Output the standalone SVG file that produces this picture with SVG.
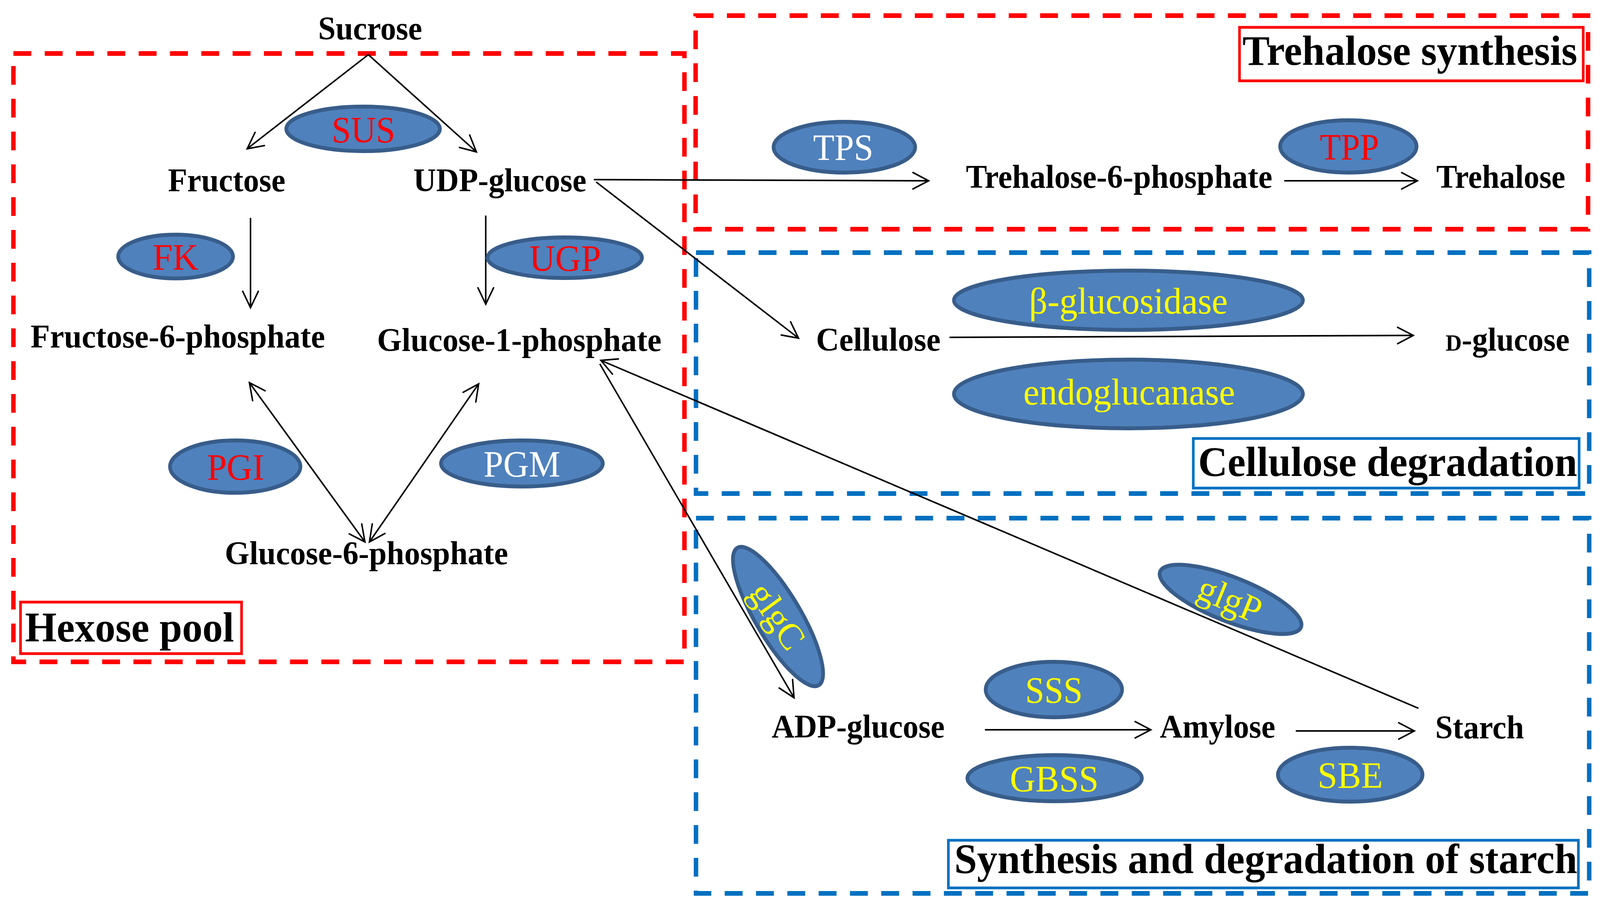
<svg xmlns="http://www.w3.org/2000/svg" width="4292" height="2328" viewBox="0 0 4292 2328" preserveAspectRatio="none">
<style>
svg{width:100vw;height:100vh;display:block}
.bg{fill:#FFFFFF}
.dr{fill:none;stroke:#FF0000;stroke-width:12;stroke-dasharray:48 36}
.db{fill:none;stroke:#0070C0;stroke-width:12;stroke-dasharray:48 36}
.lr{fill:#FFFFFF;stroke:#FF0000;stroke-width:7}
.lb{fill:#FFFFFF;stroke:#0070C0;stroke-width:7}
.en{fill:#4F81BD;stroke:#385D8A;stroke-width:10}
.nd{font-family:"Liberation Serif","Times New Roman",serif;font-weight:bold;font-size:84px;fill:#000000;text-anchor:middle}
.lab{font-family:"Liberation Serif","Times New Roman",serif;font-weight:bold;font-size:107px;fill:#000000}
.ez{font-family:"Liberation Serif","Times New Roman",serif;font-size:96px;text-anchor:middle}
.red{fill:#FF0000}
.yel{fill:#FFFF00}
.wht{fill:#FFFFFF}
.cn line{stroke:#000000;stroke-width:4;fill:none}
</style>
<defs>
<marker id="ah" viewBox="-50 -30 56 60" refX="0" refY="0" markerWidth="56" markerHeight="60" markerUnits="userSpaceOnUse" orient="auto-start-reverse">
<path d="M -42 -21 L 0 0 L -42 21" fill="none" stroke="#000000" stroke-width="4" stroke-linecap="round" stroke-linejoin="miter"/>
</marker>
</defs>
<rect class="bg" x="0" y="0" width="4292" height="2328"/>

<g id="regions">
<rect id="hexose-pool-box" class="dr" x="36" y="137" width="1800" height="1558"/>
<rect id="trehalose-box" class="dr" x="1866" y="40" width="2394" height="547"/>
<rect id="cellulose-box" class="db" x="1867" y="647" width="2396" height="617"/>
<rect id="starch-box" class="db" x="1867" y="1327" width="2396" height="961"/>
</g>

<g id="region-labels">
<g id="label-hexose"><rect class="lr" x="55" y="1542" width="593" height="132"/><text class="lab" x="67" y="1643" textLength="561" lengthAdjust="spacingAndGlyphs">Hexose pool</text></g>
<g id="label-trehalose"><rect class="lr" x="3325" y="70" width="922" height="137"/><text class="lab" x="3333" y="166" textLength="898" lengthAdjust="spacingAndGlyphs">Trehalose synthesis</text></g>
<g id="label-cellulose"><rect class="lb" x="3201" y="1123" width="1035" height="127"/><text class="lab" x="3214" y="1219" textLength="1017" lengthAdjust="spacingAndGlyphs">Cellulose degradation</text></g>
<g id="label-starch"><rect class="lb" x="2544" y="2152" width="1690" height="122"/><text class="lab" x="2560" y="2236" textLength="1671" lengthAdjust="spacingAndGlyphs">Synthesis and degradation of starch</text></g>
</g>

<g id="connectors" class="cn">
<line x1="988" y1="140" x2="663" y2="381" marker-end="url(#ah)"/>
<line x1="988" y1="140" x2="1278" y2="389" marker-end="url(#ah)"/>
<line x1="672" y1="558" x2="672" y2="788" marker-end="url(#ah)"/>
<line x1="1303" y1="552" x2="1303" y2="779" marker-end="url(#ah)"/>
<line x1="669" y1="980" x2="979" y2="1388" marker-start="url(#ah)" marker-end="url(#ah)"/>
<line x1="1284" y1="983" x2="991" y2="1388" marker-start="url(#ah)" marker-end="url(#ah)"/>
<line x1="1593" y1="460" x2="2491" y2="463" marker-end="url(#ah)"/>
<line x1="1599" y1="466" x2="2142" y2="866" marker-end="url(#ah)"/>
<line x1="3445" y1="463" x2="3802" y2="463" marker-end="url(#ah)"/>
<line x1="2547" y1="864" x2="3791" y2="859" marker-end="url(#ah)"/>
<line x1="1609" y1="932" x2="2130" y2="1787" marker-end="url(#ah)"/>
<line x1="3805" y1="1814" x2="1612" y2="923" marker-end="url(#ah)"/>
<line x1="2642" y1="1869" x2="3087" y2="1869" marker-end="url(#ah)"/>
<line x1="3476" y1="1872" x2="3794" y2="1872" marker-end="url(#ah)"/>
</g>

<g id="metabolites">
<g id="n-sucrose"><text class="nd" x="993" y="101" textLength="279" lengthAdjust="spacingAndGlyphs">Sucrose</text></g>
<g id="n-fructose"><text class="nd" x="608" y="490" textLength="315" lengthAdjust="spacingAndGlyphs">Fructose</text></g>
<g id="n-udpglucose"><text class="nd" x="1341" y="490" textLength="464" lengthAdjust="spacingAndGlyphs">UDP-glucose</text></g>
<g id="n-f6p"><text class="nd" x="477" y="890" textLength="790" lengthAdjust="spacingAndGlyphs">Fructose-6-phosphate</text></g>
<g id="n-g1p"><text class="nd" x="1393" y="899" textLength="763" lengthAdjust="spacingAndGlyphs">Glucose-1-phosphate</text></g>
<g id="n-g6p"><text class="nd" x="983" y="1445" textLength="760" lengthAdjust="spacingAndGlyphs">Glucose-6-phosphate</text></g>
<g id="n-t6p"><text class="nd" x="3002" y="481" textLength="822" lengthAdjust="spacingAndGlyphs">Trehalose-6-phosphate</text></g>
<g id="n-trehalose"><text class="nd" x="4026" y="481" textLength="346" lengthAdjust="spacingAndGlyphs">Trehalose</text></g>
<g id="n-cellulose"><text class="nd" x="2356" y="898" textLength="334" lengthAdjust="spacingAndGlyphs">Cellulose</text></g>
<g id="n-dglucose"><text class="nd" x="4044" y="898"><tspan font-size="60">D</tspan>-glucose</text></g>
<g id="n-adpglucose"><text class="nd" x="2302" y="1889" textLength="464" lengthAdjust="spacingAndGlyphs">ADP-glucose</text></g>
<g id="n-amylose"><text class="nd" x="3266" y="1889" textLength="310" lengthAdjust="spacingAndGlyphs">Amylose</text></g>
<g id="n-starch"><text class="nd" x="3969" y="1891" textLength="238" lengthAdjust="spacingAndGlyphs">Starch</text></g>
</g>

<g id="enzymes">
<g id="e-sus"><ellipse class="en" cx="974" cy="330" rx="206" ry="57"/><text class="ez red" x="975" y="365" textLength="170" lengthAdjust="spacingAndGlyphs">SUS</text></g>
<g id="e-fk"><ellipse class="en" cx="471" cy="657" rx="154" ry="56"/><text class="ez red" x="471" y="691" textLength="123" lengthAdjust="spacingAndGlyphs">FK</text></g>
<g id="e-ugp"><ellipse class="en" cx="1515" cy="660" rx="207" ry="52"/><text class="ez red" x="1516" y="694" textLength="192" lengthAdjust="spacingAndGlyphs">UGP</text></g>
<g id="e-pgi"><ellipse class="en" cx="631" cy="1195" rx="175" ry="67"/><text class="ez red" x="632" y="1229" textLength="154" lengthAdjust="spacingAndGlyphs">PGI</text></g>
<g id="e-pgm"><ellipse class="en" cx="1400" cy="1187" rx="217" ry="59"/><text class="ez wht" x="1400" y="1221" textLength="206" lengthAdjust="spacingAndGlyphs">PGM</text></g>
<g id="e-tps"><ellipse class="en" cx="2265" cy="377" rx="190" ry="65"/><text class="ez wht" x="2262" y="410" textLength="162" lengthAdjust="spacingAndGlyphs">TPS</text></g>
<g id="e-tpp"><ellipse class="en" cx="3617" cy="375" rx="183" ry="67"/><text class="ez red" x="3620" y="409" textLength="159" lengthAdjust="spacingAndGlyphs">TPP</text></g>
<g id="e-bglu"><ellipse class="en" cx="3027" cy="769" rx="468" ry="76"/><text class="ez yel" x="3027" y="803" textLength="533" lengthAdjust="spacingAndGlyphs">β-glucosidase</text></g>
<g id="e-endo"><ellipse class="en" cx="3027" cy="1009" rx="468" ry="88"/><text class="ez yel" x="3029" y="1036" textLength="568" lengthAdjust="spacingAndGlyphs">endoglucanase</text></g>
<g id="e-glgc"><ellipse class="en" cx="0" cy="0" rx="207" ry="60" transform="translate(2087,1579) rotate(58)"/><text class="ez yel" x="0" y="28" font-size="90" transform="translate(2082,1580) rotate(55)">glgC</text></g>
<g id="e-glgp"><ellipse class="en" cx="0" cy="0" rx="202" ry="57" transform="translate(3301,1535) rotate(20.5)"/><text class="ez yel" x="0" y="28" font-size="94" transform="translate(3298,1538) rotate(23)">glgP</text></g>
<g id="e-sss"><ellipse class="en" cx="2827" cy="1766" rx="183" ry="71"/><text class="ez yel" x="2827" y="1800" textLength="154" lengthAdjust="spacingAndGlyphs">SSS</text></g>
<g id="e-gbss"><ellipse class="en" cx="2829" cy="1993" rx="234" ry="59"/><text class="ez yel" x="2828" y="2027" textLength="238" lengthAdjust="spacingAndGlyphs">GBSS</text></g>
<g id="e-sbe"><ellipse class="en" cx="3622" cy="1984" rx="194" ry="69"/><text class="ez yel" x="3622" y="2018" textLength="175" lengthAdjust="spacingAndGlyphs">SBE</text></g>
</g>
</svg>
